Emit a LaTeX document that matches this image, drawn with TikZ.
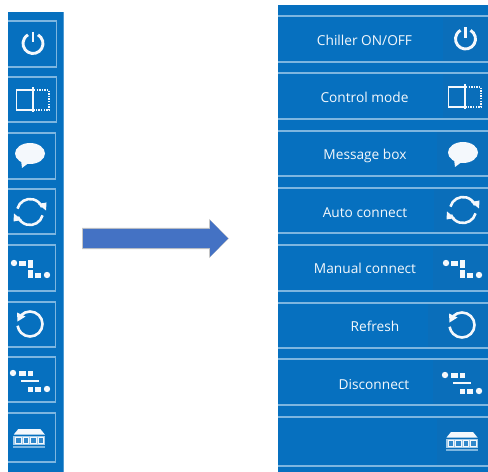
\documentclass[tikz,border=0pt]{standalone}
\usepackage{fontspec}
\setmainfont{Open Sans}
\definecolor{panel}{HTML}{0670BF}
\definecolor{edge}{HTML}{7DB6E0}
\definecolor{slot}{HTML}{0A6EBA}
\definecolor{arrowblue}{HTML}{4472C4}
\definecolor{ink}{HTML}{F4F8FC}
\tikzset{
  x=1bp,y=-1bp,
  btn/.style={draw=edge,line width=1.1bp},
  sep/.style={draw=edge,line width=1.2bp},
  lbl/.style={text=ink,font=\fontsize{13.7bp}{16bp}\selectfont,inner sep=0pt,anchor=center},
  stroke/.style={draw=ink,line width=2.6bp},
  solid ink/.style={fill=ink,draw=none},
  pics/powericon/.style={code={
    \draw[stroke,line width=2.9bp] (-60:10) arc (-60:240:10);
    \draw[stroke,line width=2.9bp] (0,-11.5) -- (0,-1);
  }},
  pics/modeicon/.style={code={
    \draw[draw=ink,line width=1.5bp] (0,-10) -- (-16.5,-10) -- (-16.5,10) -- (0,10);
    \draw[draw=ink,line width=2bp] (0,-12.5) -- (0,12.5);
    \draw[draw=ink,line width=1.4bp,dash pattern=on 1.4bp off 1.2bp] (1,-10) -- (16,-10) -- (16,10) -- (1,10);
  }},
  pics/bubbleicon/.style={code={
    \fill[solid ink] (0,-1.5) ellipse [x radius=15,y radius=10.5];
    \fill[solid ink] (-9,5) -- (-8,13) -- (0,7) -- cycle;
  }},
  pics/syncicon/.style={code={
    \draw[stroke] (-165:13) arc (-165:-22:13);
    \draw[stroke] (15:13) arc (15:158:13);
    \fill[solid ink] (8,-8) -- (16,-1.5) -- (16.5,-9.5) -- cycle;
    \fill[solid ink] (-8,8) -- (-16,1.5) -- (-16.5,9.5) -- cycle;
  }},
  pics/manualicon/.style={code={
    \fill[solid ink] (-17,-5) circle (3.2);
    \fill[solid ink] (-12,-7.5) rectangle (-5,-2.5);
    \fill[solid ink] (-3,-8) rectangle (1.5,-0.5);
    \fill[solid ink] (-3,2) rectangle (1.5,9.5);
    \fill[solid ink] (3.5,4.5) rectangle (10,9.5);
    \fill[solid ink] (16,7) circle (3.2);
  }},
  pics/refreshicon/.style={code={
    \draw[stroke] (-135:12.5) arc (-135:172:12.5);
    \fill[solid ink] (-13,-11.5) -- (-12.5,-2.5) -- (-4.5,-7.5) -- cycle;
  }},
  pics/dropicon/.style={code={
    \fill[solid ink] (-17,-8) circle (3.2);
    \fill[solid ink] (-11,-10.5) rectangle (-4,-5.5);
    \fill[solid ink] (-2,-10.5) rectangle (2.5,-5.5);
    \fill[solid ink] (-9,-1.2) rectangle (9,1.2);
    \fill[solid ink] (-2,5.5) rectangle (2.5,10.5);
    \fill[solid ink] (4.5,5.5) rectangle (11,10.5);
    \fill[solid ink] (17,8) circle (3.2);
  }},
  pics/deviceicon/.style={code={
    \fill[solid ink] (-11,-9) -- (11,-9) -- (15.5,-3.5) -- (-15.5,-3.5) -- cycle;
    \fill[edge!70!white] (-16,-2.5) rectangle (16,7);
    \foreach \u in {-14,-6.5,1,8.5}{
      \draw[draw=ink,line width=0.6bp,fill=edge!35!panel] (\u,-0.5) rectangle ++(5.5,5.5);
    }
    \fill[edge] (-16,8) rectangle (16,9.5);
  }},
}
\begin{document}
\begin{tikzpicture}
\useasboundingbox (0,0) rectangle (488,472);
\fill[white] (0,0) rectangle (488,472);
% left bar
\fill[panel] (8,12) rectangle (63,472);
\fill[edge!60!panel] (62.6,12) rectangle (64,472);
\foreach \ya/\yb/\xr in {21/67/56.5,77/122/56.5,133/179/55.5,189/234/55.5,245/291/55.5,302/347/55.5,357/402/55.5,413/462/55.5}{
  \draw[btn] (8,\ya) -- (\xr,\ya) -- (\xr,\yb) -- (8,\yb);
}
\pic at (33,43.5) {powericon};
\pic at (33,100) {modeicon};
\pic at (30,155) {bubbleicon};
\pic at (30,212) {syncicon};
\pic at (31,268) {manualicon};
\pic at (30,324) {refreshicon};
\pic at (30,381) {dropicon};
\pic at (29.3,438) {deviceicon};
% arrow
\fill[gray!45] (82,228) -- (209,228) -- (209,219) -- (229,238.5) -- (209,258) -- (209,249) -- (82,249) -- cycle;
\fill[arrowblue] (83,229) -- (210,229) -- (210,220) -- (228,238.5) -- (210,257) -- (210,248) -- (83,248) -- cycle;
% right bar
\fill[panel] (278,5) rectangle (488,472);
\foreach \ya/\yb/\xs in {16/62/443,73/119/443,131/176/437,188/233/434,245/291/433,303/348/428,359/405/433,417/466/437}{
  \fill[slot] (\xs,\ya) rectangle (488,\yb);
}
\foreach \ya/\yb in {16/62,73/119,131/176,188/233,245/291,303/348,359/405,417/466}{
  \draw[sep] (278,\ya) -- (488,\ya);
  \draw[sep] (278,\yb) -- (488,\yb);
}
\pic at (465.5,39) {powericon};
\pic at (465,97) {modeicon};
\pic at (463,154) {bubbleicon};
\pic at (463,210) {syncicon};
\pic at (463,268) {manualicon};
\pic at (462,325) {refreshicon};
\pic at (462,383) {dropicon};
\pic at (462,441) {deviceicon};
\node[lbl] (l1) at (364.5,40.5) {Chiller ON/OFF};
\node[lbl] (l2) at (364.5,97.5) {Control mode};
\node[lbl] (l3) at (365,155.5) {Message box};
\node[lbl] (l4) at (365,212.5) {Auto connect};
\node[lbl] (l5) at (365,268.5) {Manual connect};
\node[lbl] (l6) at (375,326.5) {Refresh};
\node[lbl] (l7) at (374,384.5) {Disconnect};
\end{tikzpicture}
\end{document}
